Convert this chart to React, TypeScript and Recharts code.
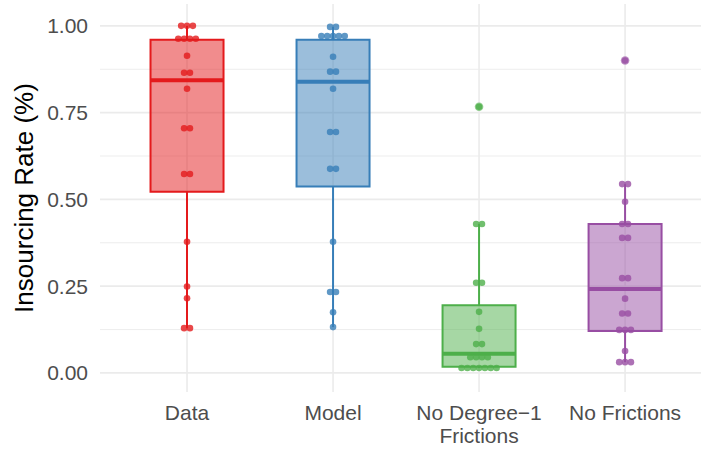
import React from "react";
import {
  ScatterChart,
  Scatter,
  XAxis,
  YAxis,
  CartesianGrid,
  ReferenceArea,
  ReferenceLine,
  Label,
} from "recharts";

const CATEGORIES = ["Data", "Model", "No Degree\u22121\nFrictions", "No Frictions"];
const COLORS = ["#E41A1C", "#377EB8", "#4DAF4A", "#984EA3"];

// insourcing rate per observation, one list per scenario
const dataRates = [
  1, 1, 1, 0.963, 0.963, 0.963, 0.963, 0.914, 0.865, 0.865, 0.819, 0.705, 0.705,
  0.573, 0.573, 0.378, 0.249, 0.215, 0.129, 0.129,
];
const modelRates = [
  0.997, 0.997, 0.971, 0.971, 0.971, 0.971, 0.971, 0.911, 0.868, 0.868, 0.819,
  0.694, 0.694, 0.588, 0.588, 0.378, 0.233, 0.233, 0.175, 0.132,
];
const noDegreeRates = [
  0.767, 0.429, 0.429, 0.26, 0.26, 0.176, 0.127, 0.083, 0.083, 0.045, 0.045,
  0.045, 0.045, 0.014, 0.014, 0.014, 0.014, 0.014, 0.014, 0.014,
];
const noFrictionRates = [
  0.9, 0.544, 0.544, 0.493, 0.429, 0.429, 0.389, 0.389, 0.273, 0.273, 0.214,
  0.171, 0.171, 0.124, 0.124, 0.124, 0.063, 0.031, 0.031, 0.031,
];

// box summaries
const whiskerLow = [0.129, 0.132, 0.014, 0.031];
const q1 = [0.522, 0.537, 0.018, 0.121];
const medians = [0.843, 0.839, 0.055, 0.242];
const q3 = [0.96, 0.96, 0.195, 0.429];
const whiskerHigh = [1, 0.997, 0.429, 0.544];
const outliers = [[], [], [0.767], [0.9]];

const X_TICKS = [0, 1, 2, 3];
const Y_TICKS = [0, 0.25, 0.5, 0.75, 1];
const MINOR_BREAKS = [0.125, 0.375, 0.625, 0.875];
const Y_DOMAIN: [number, number] = [-0.055, 1.063];

const FONT = "'Liberation Sans', Arial, Helvetica, sans-serif";
const GRID = "#EBEBEB";
const BOX_HALF = 0.25;
const DOT_GAP = 0.04;

// spread tied values side by side around the category centre
function swarm(values: number[], center: number) {
  const groups = new Map<number, number>();
  values.forEach((v) => groups.set(v, (groups.get(v) ?? 0) + 1));
  const pts: { x: number; y: number }[] = [];
  groups.forEach((n, v) => {
    for (let k = 0; k < n; k++) {
      pts.push({ x: center + (k - (n - 1) / 2) * DOT_GAP, y: v });
    }
  });
  return pts;
}

const series = [dataRates, modelRates, noDegreeRates, noFrictionRates];

const dot = (color: string, r: number, opacity: number) => (props: any) => (
  <circle cx={props.cx} cy={props.cy} r={r} fill={color} fillOpacity={opacity} />
);

const XTick = ({ x, y, payload }: any) => {
  const lines = CATEGORIES[payload.value].split("\n");
  return (
    <text x={x} y={y} textAnchor="middle" fill="#4D4D4D" fontSize={21} fontFamily={FONT}>
      {lines.map((line, k) => (
        <tspan key={k} x={x} dy={k === 0 ? 20 : 23}>
          {line}
        </tspan>
      ))}
    </text>
  );
};

const YTitle = ({ viewBox }: any) => {
  const cx = viewBox.x + 33;
  const cy = viewBox.y + viewBox.height / 2;
  return (
    <text
      x={cx}
      y={cy}
      textAnchor="middle"
      fontSize={26}
      fontFamily={FONT}
      fill="#000"
      transform={`rotate(-90, ${cx}, ${cy})`}
    >
      Insourcing Rate (%)
    </text>
  );
};

export default function App() {
  return (
    <div style={{ position: "absolute", left: 0, top: 0, background: "#fff" }}>
      <ScatterChart width={701} height={449} margin={{ top: 4, right: 0, bottom: 0, left: 0 }}>
        {/* minor grid first, then major grid on top */}
        <CartesianGrid yAxisId="minor" vertical={false} stroke={GRID} strokeWidth={0.9} syncWithTicks />
        <CartesianGrid stroke={GRID} strokeWidth={1.6} syncWithTicks />
        <XAxis
          type="number"
          dataKey="x"
          domain={[-0.596, 3.52]}
          ticks={X_TICKS}
          interval={0}
          allowDataOverflow
          axisLine={false}
          tickLine={false}
          height={57}
          tick={<XTick />}
        />
        <YAxis
          type="number"
          dataKey="y"
          domain={Y_DOMAIN}
          ticks={Y_TICKS}
          allowDataOverflow
          axisLine={false}
          tickLine={false}
          width={100}
          tickMargin={6}
          tickFormatter={(v: number) => v.toFixed(2)}
          tick={{ fill: "#4D4D4D", fontSize: 21, fontFamily: FONT }}
        >
          <Label content={<YTitle />} />
        </YAxis>
        <YAxis yAxisId="minor" type="number" domain={Y_DOMAIN} ticks={MINOR_BREAKS} allowDataOverflow hide />

        {CATEGORIES.map((_, i) => (
          <ReferenceLine
            key={`wl${i}`}
            segment={[
              { x: i, y: whiskerLow[i] },
              { x: i, y: q1[i] },
            ]}
            stroke={COLORS[i]}
            strokeWidth={2}
          />
        ))}
        {CATEGORIES.map((_, i) => (
          <ReferenceLine
            key={`wh${i}`}
            segment={[
              { x: i, y: q3[i] },
              { x: i, y: whiskerHigh[i] },
            ]}
            stroke={COLORS[i]}
            strokeWidth={2}
          />
        ))}
        {CATEGORIES.map((_, i) => (
          <ReferenceArea
            key={`box${i}`}
            x1={i - BOX_HALF}
            x2={i + BOX_HALF}
            y1={q1[i]}
            y2={q3[i]}
            fill={COLORS[i]}
            fillOpacity={0.5}
            stroke={COLORS[i]}
            strokeWidth={2}
          />
        ))}
        {CATEGORIES.map((_, i) => (
          <ReferenceLine
            key={`med${i}`}
            segment={[
              { x: i - BOX_HALF, y: medians[i] },
              { x: i + BOX_HALF, y: medians[i] },
            ]}
            stroke={COLORS[i]}
            strokeWidth={4}
          />
        ))}

        {series.map((vals, i) => (
          <Scatter
            key={`pts${i}`}
            data={swarm(vals, i)}
            shape={dot(COLORS[i], 3.3, 0.8)}
            isAnimationActive={false}
          />
        ))}
        {outliers.map((vals, i) =>
          vals.length ? (
            <Scatter
              key={`out${i}`}
              data={vals.map((v) => ({ x: i, y: v }))}
              shape={dot(COLORS[i], 4.3, 0.6)}
              isAnimationActive={false}
            />
          ) : null
        )}
      </ScatterChart>
    </div>
  );
}
